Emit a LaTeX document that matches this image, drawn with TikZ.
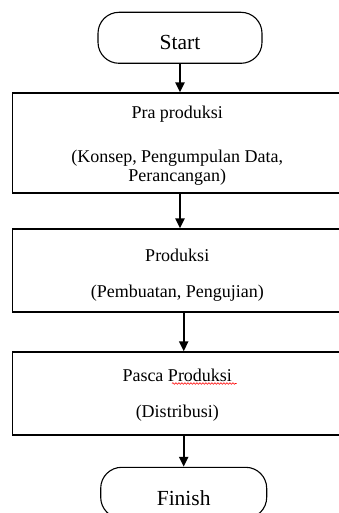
\documentclass[tikz,border=0pt]{standalone}
\usepackage{fontspec}
\setmainfont{Liberation Serif}
\usetikzlibrary{arrows.meta,decorations.pathmorphing}
\begin{document}
\begin{tikzpicture}[x=1pt,y=-1pt,
  terminal/.style={draw,line width=1.1pt,rounded corners=21pt,minimum width=164pt,minimum height=51pt,inner sep=0pt},
  termtext/.style={font=\fontsize{21.5}{24}\selectfont,inner sep=0pt},
  procbox/.style={draw,line width=1.3pt,minimum width=329.5pt,inner sep=0pt},
  boxtext/.style={inner sep=0pt,align=center,font=\fontsize{18}{19}\selectfont},
  flowarrow/.style={line width=2.2pt,-{Triangle[width=9pt,length=10pt]}}]
\clip (0,0) rectangle (339,513);
\fill[white] (0,0) rectangle (339,513);
\node[terminal,label={[termtext,yshift=-5pt]center:Start}] (start) at (180,37.8) {};
\node[procbox,minimum height=100pt,label={[boxtext,yshift=-3pt]center:{Pra produksi\\[25pt](Konsep, Pengumpulan Data,\\Perancangan)}}] (box1) at (177.25,143) {};
\node[procbox,minimum height=83pt,label={[boxtext,yshift=-5pt]center:{Produksi\\[17pt](Pembuatan, Pengujian)}}] (box2) at (177.25,270.5) {};
\node[procbox,minimum height=83pt,label={[boxtext,yshift=-1.5pt]center:{Pasca Produksi\\[17pt](Distribusi)}}] (box3) at (177.25,393.5) {};
\node[terminal,minimum width=166pt,label={[termtext,yshift=-5pt]center:Finish}] (finish) at (183.7,492.8) {};
\draw[flowarrow] (start.south) -- (start.south |- box1.north);
\draw[flowarrow] (start.south |- box1.south) -- (start.south |- box2.north);
\draw[flowarrow] (finish.north |- box2.south) -- (finish.north |- box3.north);
\draw[flowarrow] (finish.north |- box3.south) -- (finish.north);
\draw[red,line width=0.6pt,decorate,decoration={snake,amplitude=0.8pt,segment length=3pt}] (172,383.5) -- (236.5,383.5);
\end{tikzpicture}
\end{document}
